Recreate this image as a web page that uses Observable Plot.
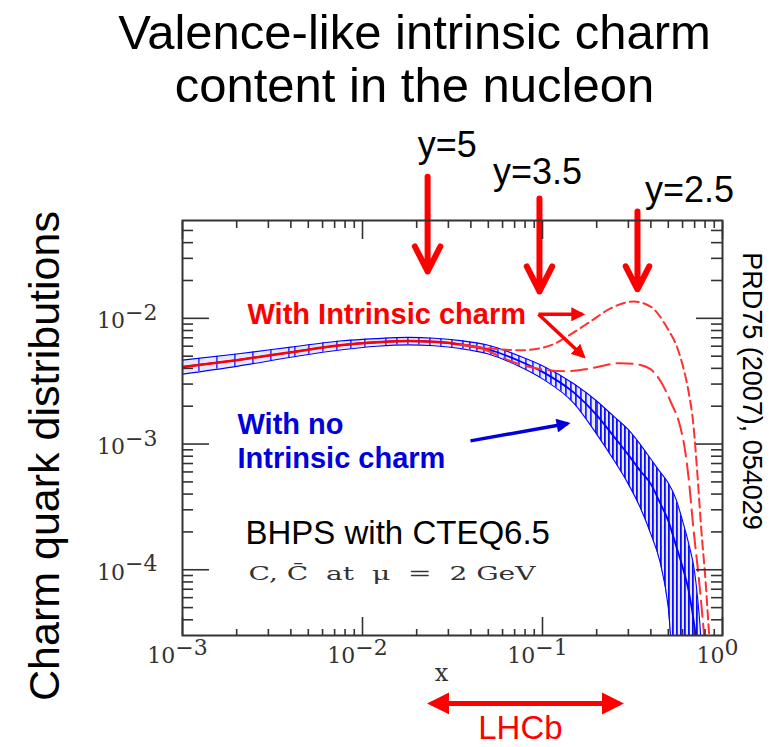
<!DOCTYPE html>
<html><head><meta charset="utf-8">
<script src="https://cdn.jsdelivr.net/npm/d3@7"></script>
<script src="https://cdn.jsdelivr.net/npm/@observablehq/plot@0.6"></script>
<style>
html,body{margin:0;padding:0;background:#fff;}
#wrap{width:773px;height:747px;position:relative;overflow:hidden;background:#fff;}
#title{width:773px;height:112px;box-sizing:border-box;padding-top:6px;padding-left:56px;font-family:"Liberation Sans",Arial,sans-serif;font-size:49px;line-height:53px;text-align:center;color:#000;white-space:nowrap;}
#chart svg{display:block;}
</style></head><body>
<div id="wrap"><div id="title">Valence-like intrinsic charm<br>content in the nucleon</div><div id="chart"></div></div>
<script>
// ---------- data ----------
// CTEQ6.5 charm distribution (no intrinsic charm): central value and uncertainty band
const xGrid       = [0.001, 0.002, 0.004, 0.0075, 0.012, 0.018, 0.025, 0.035, 0.05, 0.075, 0.1, 0.15, 0.2, 0.25, 0.3, 0.35, 0.4, 0.45, 0.5, 0.55, 0.6, 0.65, 0.7, 0.75, 0.78];
const cteqCentral = [4.1e-3, 4.65e-3, 5.37e-3, 6.1e-3, 6.45e-3, 6.6e-3, 6.5e-3, 6.2e-3, 5.65e-3, 4.56e-3, 3.75e-3, 2.55e-3, 1.7e-3, 1.14e-3, 8.2e-4, 6.1e-4, 4.8e-4, 3.4e-4, 2.45e-4, 1.58e-4, 1.05e-4, 6.7e-5, 3.5e-5, 1.5e-5, 1.0e-5];
const cteqHigh    = [4.65e-3, 5.2e-3, 5.9e-3, 6.6e-3, 6.9e-3, 7.05e-3, 6.95e-3, 6.65e-3, 6.1e-3, 5.0e-3, 4.2e-3, 3.0e-3, 2.2e-3, 1.65e-3, 1.3e-3, 9.9e-4, 7.6e-4, 6.0e-4, 4.9e-4, 3.7e-4, 2.45e-4, 1.6e-4, 9.6e-5, 3.6e-5, 1.5e-5];
const cteqLow     = [3.6e-3, 4.15e-3, 4.9e-3, 5.6e-3, 6.0e-3, 6.15e-3, 6.05e-3, 5.75e-3, 5.2e-3, 4.12e-3, 3.3e-3, 2.1e-3, 1.2e-3, 7.4e-4, 4.8e-4, 3.1e-4, 1.92e-4, 1.15e-4, 5.0e-5, 1e-5, 1e-5, 1e-5, 1e-5, 1e-5, 1e-5];
// BHPS intrinsic charm, larger normalisation (short dashes)
const icHighX = [0.035, 0.05, 0.0755, 0.0975, 0.115, 0.138, 0.185, 0.239, 0.321, 0.398, 0.495, 0.562, 0.607, 0.647, 0.69, 0.727, 0.764, 0.805, 0.842, 0.86];
const icHighY = [6.2e-3, 5.78e-3, 5.57e-3, 5.78e-3, 6.22e-3, 7.2e-3, 9.46e-3, 1.2e-2, 1.36e-2, 1.24e-2, 8.3e-3, 5.78e-3, 4.0e-3, 2.64e-3, 1.4e-3, 5.5e-4, 2.0e-4, 8.2e-5, 3.1e-5, 2.0e-5];
// BHPS intrinsic charm, smaller normalisation (long dashes)
const icLowX = [0.035, 0.05, 0.0607, 0.0975, 0.138, 0.185, 0.271, 0.337, 0.398, 0.453, 0.514, 0.585, 0.615, 0.647, 0.69, 0.741, 0.789, 0.81];
const icLowY = [6.2e-3, 5.5e-3, 4.82e-3, 3.94e-3, 3.8e-3, 4.0e-3, 4.4e-3, 4.3e-3, 3.94e-3, 3.16e-3, 2.19e-3, 1.34e-3, 9.5e-4, 5.5e-4, 2.1e-4, 8.2e-5, 3.1e-5, 2.0e-5];
// axis ticks
const xMajorTicks = [1e-3, 1e-2, 1e-1, 1];
const xMinorTicks = [2e-3,3e-3,4e-3,5e-3,6e-3,7e-3,8e-3,9e-3, 2e-2,3e-2,4e-2,5e-2,6e-2,7e-2,8e-2,9e-2, 0.2,0.3,0.4,0.5,0.6,0.7,0.8,0.9];
const yMajorTicks = [1e-4, 1e-3, 1e-2];
const yMinorTicks = [4e-5,5e-5,6e-5,7e-5,8e-5,9e-5, 2e-4,3e-4,4e-4,5e-4,6e-4,7e-4,8e-4,9e-4, 2e-3,3e-3,4e-3,5e-3,6e-3,7e-3,8e-3,9e-3, 2e-2,3e-2,4e-2,5e-2];
// annotations (in data units)
const rapidityLabels = ["y=5", "y=3.5", "y=2.5"];
const rapidityX      = [0.0230, 0.0962, 0.337];
const rapidityTop    = [0.134, 0.0896, 0.0706];
const rapidityTip    = [0.0236, 0.01637, 0.0170];
const rapidityTextX  = [0.0296, 0.0938, 0.656];
const rapidityTextY  = [0.238, 0.1456, 0.1047];
const lhcbRange = [0.02417, 0.268];

// ---------- build ----------
const red = "#ff0000", blue = "#0000ff", textBlue = "#0000dd", ink = "#333";
const sans = "Liberation Sans, Arial, sans-serif";
const serif = "DejaVu Serif, serif";

const band = xGrid.map((x, i) => ({x, lo: cteqLow[i], mid: cteqCentral[i], hi: cteqHigh[i]}));
const icHigh = icHighX.map((x, i) => ({x, y: icHighY[i]}));
const icLow = icLowX.map((x, i) => ({x, y: icLowY[i]}));
const rapidity = rapidityLabels.map((label, i) => ({label, x: rapidityX[i], y1: rapidityTop[i], y2: rapidityTip[i], tx: rapidityTextX[i], ty: rapidityTextY[i]}));

// hatch density changes along x, as in the original figure: [from, to, spacing px, line width]
const hatchSegments = [[0.001, 0.004, 18, 1.2], [0.004, 0.012, 14, 1.2], [0.012, 0.035, 11, 1.2], [0.035, 0.1, 7, 1.3], [0.1, 0.2, 5, 1.5], [0.2, 0.78, 4, 1.7]];

const fmtPow = d => "10^" + String(Math.round(Math.log10(d))).replace("-", "\u2212");
const tickOpts = {label: null, color: ink, strokeWidth: 1.6, tickFormat: () => ""};

const plot = Plot.plot({
  width: 773, height: 635,
  marginLeft: 182, marginRight: 51, marginTop: 108, marginBottom: 112,
  style: {background: "#fff", fontFamily: sans, overflow: "visible"},
  x: {type: "log", domain: [1e-3, 1], label: null},
  y: {type: "log", domain: [3e-5, 0.06], label: null},
  marks: [
    ...hatchSegments.map(([a, b]) => Plot.areaY(band.filter(d => d.x >= a && d.x <= b), {x: "x", y1: "lo", y2: "hi", fill: "#dde", curve: "monotone-x", clip: true})),
    Plot.line(band, {x: "x", y: "hi", stroke: blue, strokeWidth: 1.1, curve: "monotone-x", clip: true}),
    Plot.line(band, {x: "x", y: "lo", stroke: blue, strokeWidth: 1.1, curve: "monotone-x", clip: true}),
    Plot.line(band, {x: "x", y: "mid", stroke: blue, strokeWidth: 1.8, curve: "monotone-x", clip: true}),
    Plot.line(band.filter(d => d.x <= 0.05), {x: "x", y: "mid", stroke: red, strokeWidth: 2.5, curve: "monotone-x", clip: true}),
    Plot.line(icHigh, {x: "x", y: "y", stroke: "#ff3030", strokeWidth: 2, strokeDasharray: "9,5", curve: "monotone-x", clip: true}),
    Plot.line(icLow, {x: "x", y: "y", stroke: "#ff3030", strokeWidth: 2, strokeDasharray: "16,7", curve: "monotone-x", clip: true}),

    Plot.arrow(rapidity, {x1: "x", x2: "x", y1: "y1", y2: "y2", stroke: red, strokeWidth: 6, headLength: 7, headAngle: 54}),
    Plot.text(rapidity, {x: "tx", y: "ty", text: "label", fontSize: 36, fontFamily: sans, fill: "#000"}),

    Plot.link([{x1: 0.0950, y1: 0.01076, x2: 0.1669, y2: 0.01076}, {x1: 0.0950, y1: 0.01076, x2: 0.1692, y2: 4.97e-3}], {x1: "x1", y1: "y1", x2: "x2", y2: "y2", stroke: red, strokeWidth: 3.5}),
    Plot.link([{x1: 0.0398, y1: 1.06e-3, x2: 0.1383, y2: 1.455e-3}], {x1: "x1", y1: "y1", x2: "x2", y2: "y2", stroke: textBlue, strokeWidth: 3.5}),
    Plot.link([{x1: lhcbRange[0], x2: lhcbRange[1], y: 8.65e-6}], {x1: "x1", x2: "x2", y1: "y", y2: "y", stroke: red, strokeWidth: 5}),

    Plot.text(["With Intrinsic charm"], {x: [0.002296], y: [0.01062], textAnchor: "start", fontSize: 29, fontWeight: "bold", fontFamily: sans, fill: red}),
    Plot.text(["With no"], {x: [0.00202], y: [1.416e-3], textAnchor: "start", fontSize: 29, fontWeight: "bold", fontFamily: sans, fill: textBlue}),
    Plot.text(["Intrinsic charm"], {x: [0.00202], y: [7.69e-4], textAnchor: "start", fontSize: 29, fontWeight: "bold", fontFamily: sans, fill: textBlue}),
    Plot.text(["BHPS with CTEQ6.5"], {x: [0.002239], y: [1.952e-4], textAnchor: "start", fontSize: 33, fontFamily: sans, fill: "#000"}),
    Plot.text(["C,\u00a0C\u0304\u00a0\u00a0at\u00a0\u00a0\u03bc\u00a0\u00a0=\u00a0\u00a02\u00a0GeV"], {x: [0.002326], y: [9.19e-5], textAnchor: "start", fontSize: 18, fontFamily: serif, fill: ink}),
    Plot.text(["LHCb"], {x: [0.07543], y: [5.43e-6], fontSize: 33, fontFamily: sans, fill: red}),
    Plot.text(["x"], {x: [0.02748], y: [1.496e-5], fontSize: 24, fontFamily: serif, fill: ink}),
    Plot.text(["Charm quark distributions"], {x: [1.733e-4], y: [8.03e-4], rotate: -90, fontSize: 43, fontFamily: sans, fill: "#000"}),
    Plot.text(["PRD75 (2007), 054029"], {x: [1.46], y: [2.64e-3], rotate: 90, fontSize: 27, fontFamily: sans, fill: "#000"}),

    Plot.frame({stroke: ink, strokeWidth: 2}),
    Plot.axisX({anchor: "bottom", ticks: xMajorTicks, tickSize: -18, ...tickOpts}),
    Plot.axisX({anchor: "bottom", ticks: xMinorTicks, tickSize: -6, ...tickOpts}),
    Plot.axisX({anchor: "top", ticks: xMajorTicks, tickSize: -18, ...tickOpts}),
    Plot.axisX({anchor: "top", ticks: xMinorTicks, tickSize: -7, ...tickOpts}),
    Plot.axisY({anchor: "left", ticks: yMajorTicks, tickSize: -27, ...tickOpts}),
    Plot.axisY({anchor: "left", ticks: yMinorTicks, tickSize: -11, ...tickOpts}),
    Plot.axisY({anchor: "right", ticks: yMajorTicks, tickSize: -27, ...tickOpts}),
    Plot.axisY({anchor: "right", ticks: yMinorTicks, tickSize: -12, ...tickOpts}),
    Plot.axisX({anchor: "bottom", ticks: xMajorTicks, tickSize: 0, tickPadding: 12, tickFormat: fmtPow, label: null, fontSize: 22, fontFamily: serif, color: ink, dx: -5}),
    Plot.axisY({anchor: "left", ticks: yMajorTicks, tickSize: 0, tickPadding: 25, tickFormat: fmtPow, label: null, fontSize: 22, fontFamily: serif, color: ink, dy: 3})
  ]
});
document.getElementById("chart").appendChild(plot);

// ---------- decoration: hatch patterns, filled arrow heads, superscripts ----------
const svg = d3.select(plot.tagName.toLowerCase() === "svg" ? plot : plot.querySelector("svg"));
const defs = svg.insert("defs", ":first-child");
hatchSegments.forEach(([a, b, w, sw], i) => {
  const p = defs.append("pattern").attr("id", "hatch" + i).attr("patternUnits", "userSpaceOnUse").attr("width", w).attr("height", 8);
  p.append("rect").attr("width", w).attr("height", 8).attr("fill", "#e6e8ff");
  p.append("line").attr("x1", 0.9).attr("x2", 0.9).attr("y1", 0).attr("y2", 8).attr("stroke", blue).attr("stroke-width", sw);
});
svg.selectAll('g[aria-label="area"]').each(function(d, i) {
  d3.select(this).attr("fill", `url(#hatch${i})`).selectAll("path").attr("fill", `url(#hatch${i})`);
});
function addMarker(id, color, len, wid) {
  defs.append("marker").attr("id", id).attr("viewBox", "0 0 10 10").attr("refX", 8).attr("refY", 5)
    .attr("markerUnits", "userSpaceOnUse").attr("markerWidth", len).attr("markerHeight", wid).attr("orient", "auto-start-reverse")
    .append("path").attr("d", "M0,0L10,5L0,10z").attr("fill", color);
}
addMarker("headRed", red, 14, 14);
addMarker("headBlue", textBlue, 15, 14);
addMarker("headBig", red, 22, 23);
const links = svg.selectAll('g[aria-label="link"]').nodes();
if (links[0]) d3.select(links[0]).selectAll("path").attr("marker-end", "url(#headRed)");
if (links[1]) d3.select(links[1]).selectAll("path").attr("marker-end", "url(#headBlue)");
if (links[2]) d3.select(links[2]).selectAll("path").attr("marker-end", "url(#headBig)").attr("marker-start", "url(#headBig)");
svg.selectAll("text").each(function() {
  const t = this.textContent;
  if (t.indexOf("^") >= 0) {
    const [b, e] = t.split("^");
    const s = d3.select(this);
    s.text(null);
    s.append("tspan").text(b);
    s.append("tspan").attr("dy", "-0.38em").text(e);
  } else if (t.indexOf("GeV") >= 0) {
    d3.select(this).attr("textLength", 287).attr("lengthAdjust", "spacingAndGlyphs");
  }
});
</script>
</body></html>
